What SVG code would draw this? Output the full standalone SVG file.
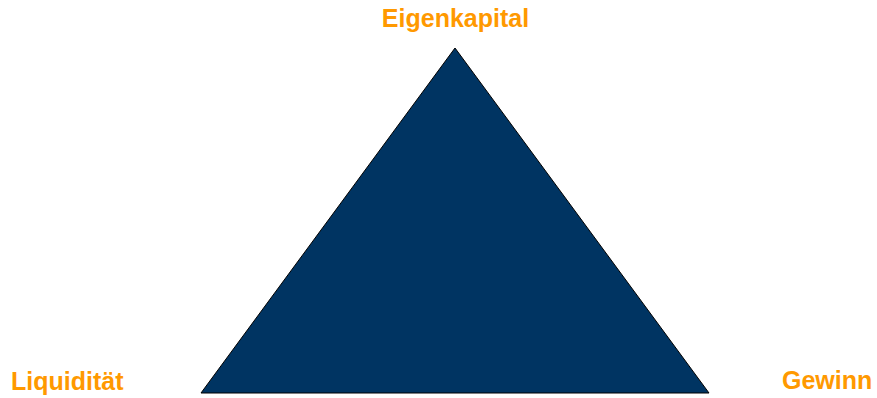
<svg xmlns="http://www.w3.org/2000/svg" width="877" height="398" viewBox="0 0 877 398">
<style>
.lbl{font-family:"Liberation Sans",Arial,sans-serif;font-weight:bold;font-size:25px;fill:#FF9900}
.tri{fill:#003462;stroke:#000;stroke-width:1}
</style>
<rect width="877" height="398" fill="#fff"/>
<g id="triangle"><polygon class="tri" points="455,48 201,393 709,393"/></g>
<g id="eigenkapital"><text class="lbl" x="455.5" y="27" text-anchor="middle">Eigenkapital</text></g>
<g id="liquiditaet"><text class="lbl" x="11" y="390">Liquidität</text></g>
<g id="gewinn"><text class="lbl" x="782" y="389">Gewinn</text></g>
<g id="connectors"></g>
</svg>
